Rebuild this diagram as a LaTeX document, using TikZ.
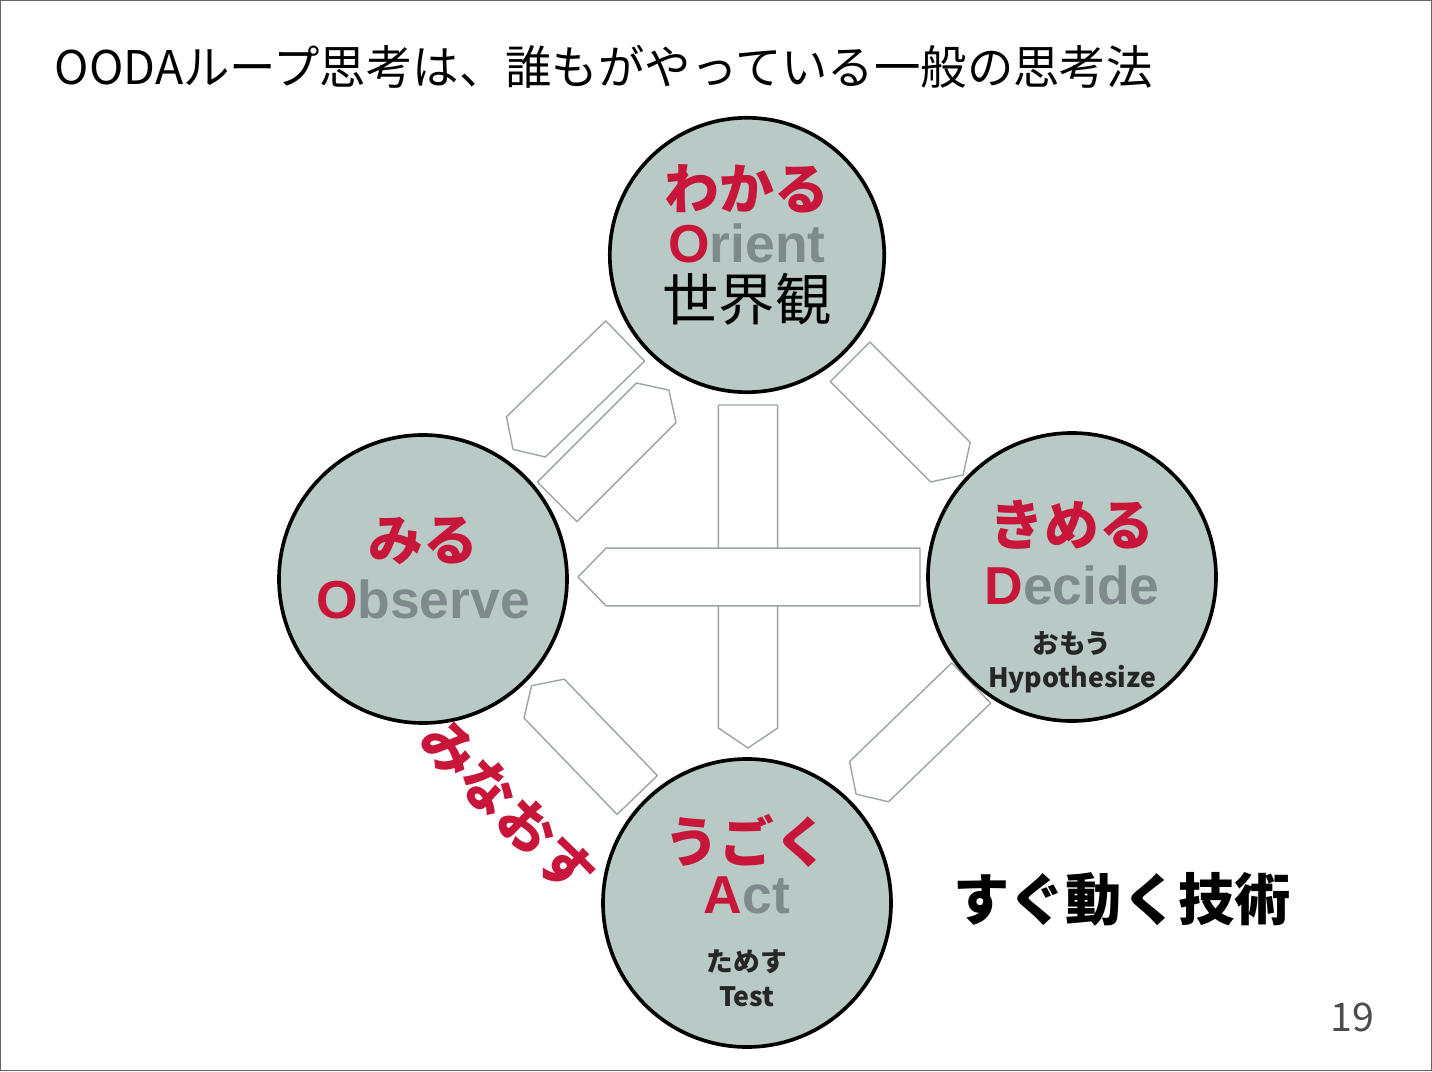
\documentclass[tikz,border=0pt]{standalone}
\usepackage{fontspec}
\setmainfont{Noto Sans CJK JP}
\newfontfamily\latinbold{Liberation Sans}
\usetikzlibrary{calc}

\definecolor{stagefill}{HTML}{B9C9C5}
\definecolor{oodared}{HTML}{C8153A}
\definecolor{oodagray}{HTML}{7E8A8C}
\definecolor{flowgray}{HTML}{9AA5A8}

\tikzset{
  stage/.style={circle, draw=black, line width=2.6pt, fill=stagefill, inner sep=0pt},
  flow/.style={draw=flowgray, line width=1pt, fill=white, line join=round},
  kana/.style={text=oodared, font=\bfseries\fontsize{39}{41}\selectfont},
  word/.style={text=oodagray, font=\latinbold\bfseries\fontsize{38}{40}\selectfont},
  small/.style={text=black!85, font=\bfseries\fontsize{19}{21}\selectfont}
}

% hollow arrow: tail centre, angle, length, half width, head length
\newcommand{\flowarrow}[5]{
  \draw[flow, shift={(#1)}, rotate=#2]
    (0,-#4) -- ({#3-#5},-#4) -- (#3,0) -- ({#3-#5},#4) -- (0,#4) -- cycle;
}

\newcommand{\redinit}[2]{{\color{oodared}#1}#2}

\begin{document}
\begin{tikzpicture}
\useasboundingbox (0,0) rectangle (35.8,26.775);
\draw[black!60, line width=0.6pt] (0.02,0.02) rectangle (35.78,26.755);

% title
\node[anchor=west, font=\fontsize{33}{35}\selectfont] (title) at (1.25,25.1) {OODAループ思考は、誰もがやっている一般の思考法};

% flow arrows between the stages
\flowarrow{18.7,16.65}{-90}{8.575}{0.74}{0.5}
\flowarrow{23.0,12.35}{180}{8.55}{0.72}{0.7}
\flowarrow{13.93,14.23}{45}{3.95}{0.7}{0.45}
\flowarrow{15.63,18.25}{224}{3.9}{0.7}{0.45}
\flowarrow{21.25,17.73}{-45}{4.0}{0.7}{0.45}
\flowarrow{24.28,9.7}{224}{4.0}{0.7}{0.45}
\flowarrow{15.93,6.9}{134}{3.8}{0.7}{0.45}

% the four stages
\node[stage, minimum size=6.86cm] (orient) at (18.675,20.4) {};
\node[stage, minimum size=7.2cm] (observe) at (10.575,12.3) {};
\node[stage, minimum size=7.2cm] (decide) at (26.8,12.35) {};
\node[stage, minimum size=7.2cm] (act) at (18.675,4.2) {};

\node[kana] (orientkana) at (18.675,22.05) {わかる};
\node[word] (orientword) at (18.675,20.7) {\redinit{O}{rient}};
\node[font=\fontsize{40}{42}\selectfont] (orientjp) at (18.675,19.3) {世界観};

\node[kana] (observekana) at (10.575,13.25) {みる};
\node[word] (observeword) at (10.575,11.8) {\redinit{O}{bserve}};

\node[kana] (decidekana) at (26.8,13.65) {きめる};
\node[word] (decideword) at (26.8,12.15) {\redinit{D}{ecide}};
\node[small] (decidejp) at (26.8,10.7) {おもう};
\node[small] (decideen) at (26.8,9.78) {Hypothesize};

\node[kana] (actkana) at (18.675,5.75) {うごく};
\node[word] (actword) at (18.675,4.4) {\redinit{A}{ct}};
\node[small] (actjp) at (18.675,2.72) {ためす};
\node[small] (acten) at (18.675,1.85) {Test};

% loose labels
\node[kana, rotate=-45] (review) at (12.7,6.6) {みなおす};
\node[font=\bfseries\fontsize{40}{42}\selectfont] (motto) at (28.05,4.28) {すぐ動く技術};
\node[text=black!70, font=\fontsize{28}{30}\selectfont] (page) at (33.8,1.35) {19};
\end{tikzpicture}
\end{document}
